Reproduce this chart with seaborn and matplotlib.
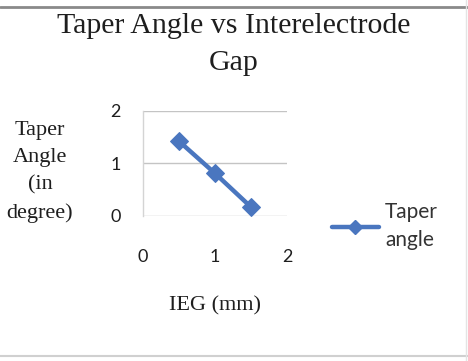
import matplotlib
matplotlib.use("Agg")
import matplotlib.pyplot as plt
import seaborn as sns
import pandas as pd
from matplotlib.lines import Line2D

# Interelectrode gap (mm) and the measured taper angle (degrees)
ieg_mm = [0.5, 1.0, 1.5]
taper_angle = [1.42, 0.81, 0.17]
x_ticks = [0, 1, 2]
y_ticks = [0, 1, 2]
series_name = "Taper angle"

df = pd.DataFrame({"IEG": ieg_mm, "Angle": taper_angle})

sns.set_theme(style="white")
serif = ["Liberation Serif", "DejaVu Serif"]
sans = ["Lato", "DejaVu Sans"]
blue = "#4a76bf"
ink = "#1e1e1e"

fig = plt.figure(figsize=(4.68, 3.61), dpi=100)
ax = fig.add_axes([143 / 468, 1 - 216 / 361, 144 / 468, 105.3 / 361])

sns.lineplot(data=df, x="IEG", y="Angle", ax=ax, color=blue, linewidth=3.2,
             marker="D", markersize=9, markeredgecolor=blue, legend=False)

ax.set_xlim(0, 2)
ax.set_ylim(0, 2)
ax.set_xticks(x_ticks)
ax.set_yticks(y_ticks)
ax.set_xticklabels([str(v) for v in x_ticks], family=sans, fontsize=13, color=ink)
ax.set_yticklabels([str(v) for v in y_ticks], family=sans, fontsize=13, color=ink)
ax.tick_params(axis="x", length=0, pad=24)
ax.tick_params(axis="y", length=0, pad=16)

for v in y_ticks:
    ax.axhline(v, color="#c4c4c4", linewidth=1.0, zorder=0)
for name, s in ax.spines.items():
    s.set_visible(name == "left")
ax.spines["left"].set_color("#d4d4d4")
ax.spines["left"].set_linewidth(1.0)

ax.set_xlabel("IEG (mm)", family=serif, fontsize=16, color=ink, va="center")
ax.xaxis.set_label_coords(0.5, -0.85)
ax.set_ylabel("Taper\nAngle\n(in\ndegree)", family=serif, fontsize=16, color=ink,
              rotation=0, ha="center", va="center", linespacing=1.58)
ax.yaxis.set_label_coords(-0.715, 0.42)

fig.text(0.5, 1 - 26 / 361, "Taper Angle vs Interelectrode", family=serif, fontsize=21.5,
         ha="center", va="center", color=ink)
fig.text(0.5, 1 - 63 / 361, "Gap", family=serif, fontsize=21.5,
         ha="center", va="center", color=ink)

# Legend entry on the right
handle = Line2D([], [], color=blue, linewidth=3.2, marker="D", markersize=7,
                markeredgecolor=blue)
leg = fig.legend([handle], ["Taper\nangle"], loc="center left",
                 bbox_to_anchor=(313 / 468, 1 - 226 / 361), frameon=False,
                 handlelength=2.25, handletextpad=0.3,
                 prop={"family": sans, "size": 15})
for t in leg.get_texts():
    t.set_color("#333333")
    t.set_linespacing(1.55)

# Chart frame lines
fig.add_artist(Line2D([0, 1], [1 - 7 / 361] * 2, color="#8a8a8a", linewidth=2.0))
fig.add_artist(Line2D([0, 1], [1 - 356 / 361] * 2, color="#d0d0d0", linewidth=1.5))
fig.add_artist(Line2D([1 - 2 / 468] * 2, [0, 1], color="#e4e4e4", linewidth=1.0))

fig.savefig("out.png", dpi=100)
